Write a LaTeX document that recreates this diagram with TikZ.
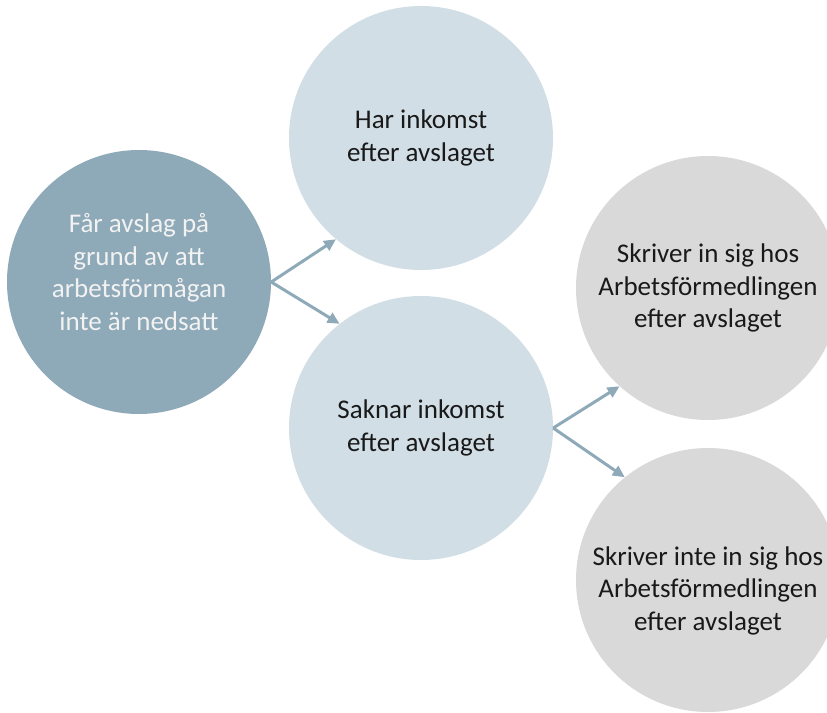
\documentclass[tikz,border=0pt]{standalone}
\usepackage{fontspec}
\setmainfont{Carlito}
\usetikzlibrary{arrows.meta}
\definecolor{darkbub}{HTML}{8EA9B8}
\definecolor{lightbub}{HTML}{D1DEE6}
\definecolor{greybub}{HTML}{D9D9D9}
\begin{document}
\begin{tikzpicture}[x=1pt,y=-1pt,
	bubble/.style={circle,minimum size=264pt,inner sep=0pt,align=center,text=black!90,font=\fontsize{27}{32.5}\selectfont},
	arr/.style={draw=darkbub,line width=3pt,-{Triangle[length=12pt,width=11pt]}}]
\useasboundingbox (0,0) rectangle (827,712);
\clip (0,0) rectangle (827,712);
% circles
\node[bubble,fill=darkbub,text=white!95!black] (fa) at (139,282) {Får avslag på\\grund av att\\arbetsförmågan\\inte är nedsatt\rule[-20pt]{0pt}{20pt}};
\node[bubble,fill=lightbub] (har) at (421,138) {Har inkomst\\efter avslaget};
\node[bubble,fill=lightbub] (sak) at (421,428) {Saknar inkomst\\efter avslaget};
\node[bubble,fill=greybub] (skr) at (708,288) {Skriver in sig hos\\Arbetsförmedlingen\\efter avslaget};
\node[bubble,fill=greybub] (skrinte) at (708,580) {\rule{0pt}{40pt}Skriver inte in sig hos\\Arbetsförmedlingen\\efter avslaget};
% arrows
\draw[arr] (fa.east) -- (har.230);
\draw[arr] (fa.east) -- (sak.128);
\draw[arr] (sak.east) -- (skr.228);
\draw[arr] (sak.east) -- (skrinte.129);
\end{tikzpicture}
\end{document}
